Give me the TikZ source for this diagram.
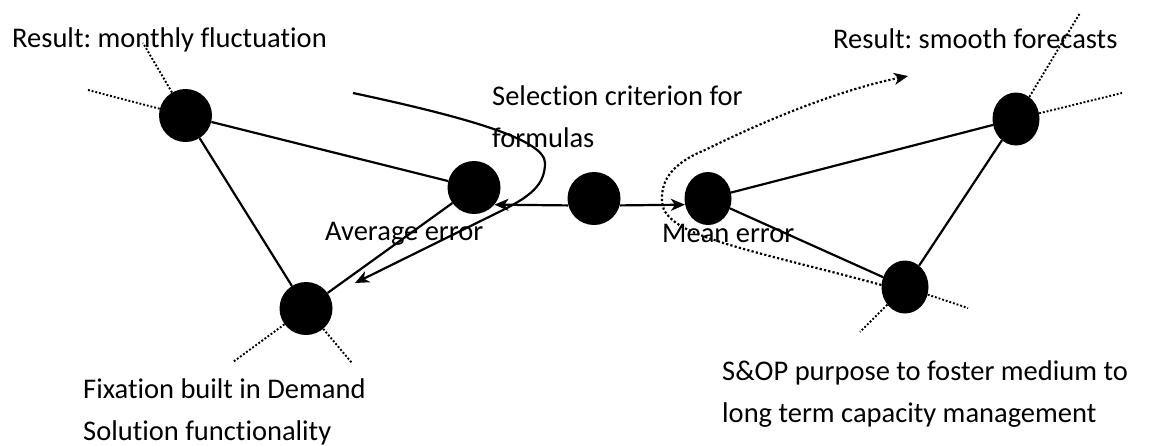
\documentclass[tikz,border=0pt]{standalone}
\usepackage{fontspec}
\setmainfont{Carlito}[Ligatures={NoCommon,NoContextual}]
\usetikzlibrary{arrows.meta,shapes.geometric}
\frenchspacing
\begin{document}
\begin{tikzpicture}[x=1pt,y=-1pt,
  dot/.style={circle,fill=black,minimum size=53pt,inner sep=0pt},
  edot/.style={ellipse,fill=black,minimum width=47pt,minimum height=53pt,inner sep=0pt},
  link/.style={line width=2.2pt},
  spoke/.style={line width=1.9pt,dash pattern=on 1.9pt off 1.9pt},
  arr/.style={line width=2.2pt,-{Stealth[length=14pt,width=12pt,inset=4pt]}},
  darr/.style={line width=2.2pt,dash pattern=on 2.2pt off 2.2pt,-{Stealth[length=14pt,width=12pt,inset=4pt]}},
  lbl/.style={font=\fontsize{28.5}{41.5}\selectfont,inner sep=0pt,anchor=base west,align=left}]
\useasboundingbox (0,0) rectangle (1166,445);

% nodes
\node[dot] (A) at (185.5,115.5) {};
\node[dot] (B) at (474,187.5) {};
\node[dot] (C) at (594,198.5) {};
\node[dot] (G) at (306,308.5) {};
\node[edot] (D) at (708,198.5) {};
\node[edot] (E) at (1016,119) {};
\node[edot] (F) at (905,287) {};

% spoke ends
\coordinate (a1) at (143,43);
\coordinate (a2) at (88,90);
\coordinate (g1) at (233,362);
\coordinate (g2) at (352,363);
\coordinate (e1) at (1080,13);
\coordinate (e2) at (1122,93);
\coordinate (f1) at (860,332);
\coordinate (f2) at (968,308);

% triangle edges
\draw[link] (A) -- (B);
\draw[link] (A) -- (G);
\draw[link] (G) -- (B);
\draw[link] (D) -- (E);
\draw[link] (D) -- (F);
\draw[link] (E) -- (F);

% dotted spokes
\draw[spoke] (A) -- (a1);
\draw[spoke] (A) -- (a2);
\draw[spoke] (G) -- (g1);
\draw[spoke] (G) -- (g2);
\draw[spoke] (E) -- (e1);
\draw[spoke] (E) -- (e2);
\draw[spoke] (F) -- (f1);
\draw[spoke] (F) -- (f2);

% horizontal arrows
\draw[arr] (C.195) -- (B.-40);
\draw[arr] (C.-15) -- (D.195);

% curved solid arrow
\coordinate (s0) at (353,93);
\coordinate (s1) at (355,283);
\draw[arr] (s0) .. controls (470,118) and (545,140) .. (545,163)
  .. controls (545,185) and (530,196) .. (505,209) -- (s1);

% curved dotted arrow
\coordinate (t1) at (908,76);
\draw[darr] (F.175) .. controls (790,260) and (700,242) .. (675,222)
  .. controls (662,212) and (662,205) .. (662,197)
  .. controls (662,175) and (680,160) .. (705,150)
  .. controls (770,118) and (840,90) .. (t1);

% labels
\node[lbl] (l1) at (12,47) {Result: monthly fluctuation};
\node[lbl] (l2) at (492,147) {Selection criterion for\\formulas};
\node[lbl] (l3) at (325,240) {Average error};
\node[lbl] (l4) at (662,242) {Mean error};
\node[lbl] (l5) at (833,48) {Result: smooth forecasts};
\node[lbl] (l6) at (722,422) {S\&OP purpose to foster medium to\\long term capacity management};
\node[lbl] (l7) at (83,440) {Fixation built in Demand\\Solution functionality};
\end{tikzpicture}
\end{document}
